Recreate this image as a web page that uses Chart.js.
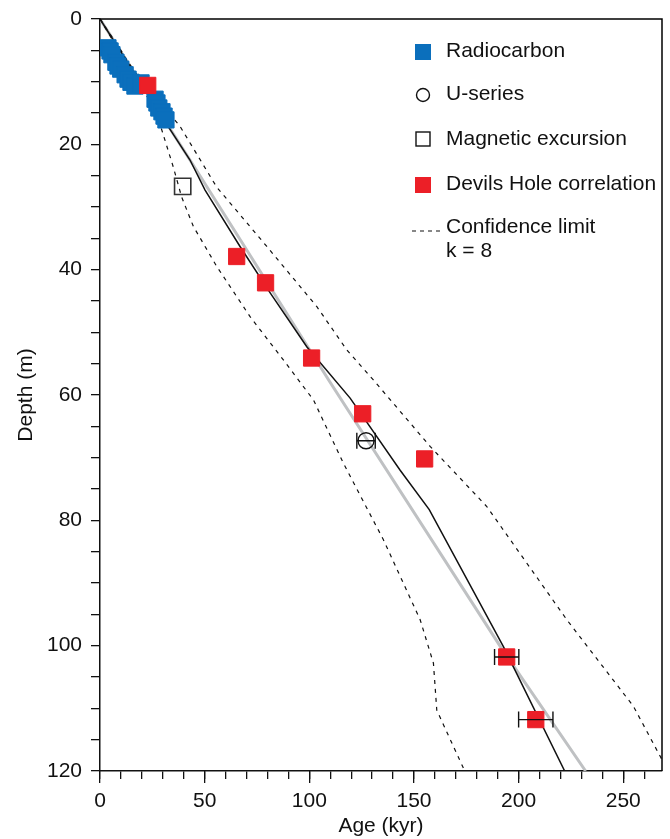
<!DOCTYPE html>
<html>
<head>
<meta charset="utf-8">
<script src="https://cdn.jsdelivr.net/npm/chart.js@4.4.1/dist/chart.umd.min.js"></script>
<style>
  body { margin: 0; background: #fff; }
  #wrap { width: 670px; height: 839px; position: relative; }
</style>
</head>
<body>
<div id="wrap"><canvas id="agechart"></canvas></div>
<script>
// age (kyr) vs depth (m)
const radiocarbonAge = [3.8, 4.8, 5.7, 7.6, 8.6, 9.9, 12.0, 13.4, 14.8, 16.7, 19.6, 26.3, 27.2, 28.1, 29.6, 30.6, 31.5];
const radiocarbonDepth = [4.6, 5.1, 5.7, 6.9, 7.5, 8.0, 8.9, 9.6, 10.1, 10.7, 10.2, 12.8, 13.4, 14.2, 14.8, 15.5, 16.1];

const uSeriesAge = [127.1];
const uSeriesDepth = [67.3];
const uSeriesErr = [4.4];

const magneticAge = [39.5];
const magneticDepth = [26.7];

const devilsAge = [22.8, 65.3, 79.1, 101.1, 125.5, 155.1, 194.3, 208.2];
const devilsDepth = [10.6, 37.9, 42.1, 54.1, 63.0, 70.2, 101.8, 111.8];
const devilsErr = [0, 0, 0, 0, 0, 0, 5.8, 8.2];

const modelAge = [0, 32.7, 43, 50.2, 66.9, 81.3, 98.8, 119.5, 143.4, 157.3, 192.8, 222];
const modelDepth = [0, 17.2, 22.5, 27.3, 36.3, 43.7, 52.3, 60.5, 72, 78.3, 100.2, 120];

const linearAge = [0, 43, 110, 192, 232];
const linearDepth = [0, 22.5, 58, 100.5, 120];

const upperAge = [0, 5, 20, 38, 55.7, 79.7, 103.6, 117.9, 130.6, 157.7, 184.8, 223.1, 254.9, 267.7, 271.4];
const upperDepth = [0, 2.8, 10, 17, 26.8, 36.3, 45.9, 52.8, 57.6, 68.2, 77.8, 95.9, 109.7, 117.7, 120];

const lowerAge = [0, 10, 27, 35, 39, 44.6, 55.8, 71.7, 87.6, 102, 116.3, 135.4, 153, 159.3, 160.9, 173.7, 174];
const lowerDepth = [0, 5, 15, 23.6, 28.4, 33.1, 39.5, 47.5, 54.4, 60.8, 70.9, 83.1, 95.9, 102.8, 110.3, 119.6, 120];

const ageMax = 268.5;
const depthMax = 120;

const BLUE = '#0b6fbc';
const RED = '#ec1f27';
const FONT = 'Liberation Sans, Arial, Helvetica, sans-serif';

function pts(xs, ys) {
  return xs.map((x, i) => ({ x: x, y: ys[i] }));
}

const frame = {
  id: 'frame',
  afterDraw(chart) {
    const { ctx, chartArea: a } = chart;
    ctx.save();
    ctx.strokeStyle = '#000';
    ctx.lineWidth = 1.5;
    ctx.beginPath();
    ctx.moveTo(a.left, a.top);
    ctx.lineTo(a.right, a.top);
    ctx.lineTo(a.right, a.bottom);
    ctx.stroke();
    ctx.restore();
  }
};

const errorBars = {
  id: 'errorBars',
  afterDatasetsDraw(chart) {
    const { ctx } = chart;
    const xs = chart.scales.x, ys = chart.scales.y;
    const bars = [];
    devilsAge.forEach((a, i) => { if (devilsErr[i] > 0) bars.push([a, devilsDepth[i], devilsErr[i]]); });
    uSeriesAge.forEach((a, i) => bars.push([a, uSeriesDepth[i], uSeriesErr[i]]));
    ctx.save();
    ctx.strokeStyle = '#111';
    ctx.lineWidth = 1.4;
    bars.forEach(([a, d, e]) => {
      const x0 = xs.getPixelForValue(a - e), x1 = xs.getPixelForValue(a + e);
      const y = ys.getPixelForValue(d);
      ctx.beginPath();
      ctx.moveTo(x0, y); ctx.lineTo(x1, y);
      ctx.moveTo(x0, y - 8); ctx.lineTo(x0, y + 8);
      ctx.moveTo(x1, y - 8); ctx.lineTo(x1, y + 8);
      ctx.stroke();
    });
    ctx.restore();
  }
};

const legendBox = {
  id: 'legendBox',
  afterDraw(chart) {
    const { ctx, chartArea: a } = chart;
    const mx = a.left + 323, tx = a.left + 346;
    ctx.save();
    ctx.font = '21px ' + FONT;
    ctx.fillStyle = '#111';
    ctx.textBaseline = 'middle';
    ctx.textAlign = 'left';
    ctx.fillText('Radiocarbon', tx, 51);
    ctx.fillText('U-series', tx, 94);
    ctx.fillText('Magnetic excursion', tx, 139);
    ctx.fillText('Devils Hole correlation', tx, 184);
    ctx.fillText('Confidence limit', tx, 227);
    ctx.fillText('k = 8', tx, 251);

    ctx.fillStyle = BLUE;
    ctx.fillRect(mx - 8, 44, 16, 16);
    ctx.fillStyle = RED;
    ctx.fillRect(mx - 8, 177, 16, 16);
    ctx.strokeStyle = '#111';
    ctx.lineWidth = 1.4;
    ctx.beginPath();
    ctx.arc(mx, 95, 6.5, 0, Math.PI * 2);
    ctx.stroke();
    ctx.strokeRect(mx - 7, 132, 14, 14);
    ctx.setLineDash([4, 4]);
    ctx.lineWidth = 1.2;
    ctx.beginPath();
    ctx.moveTo(mx - 11, 231);
    ctx.lineTo(mx + 17, 231);
    ctx.stroke();
    ctx.restore();
  }
};

const tickFont = { family: FONT, size: 21 };

function fitBottom(h) {
  return function (s) {
    s.height = h;
    s.paddingLeft = 0;
    s.paddingRight = 0;
  };
}

new Chart(document.getElementById('agechart'), {
  type: 'scatter',
  plugins: [frame, errorBars, legendBox],
  data: {
    datasets: [
      {
        data: pts(devilsAge, devilsDepth),
        pointStyle: 'rect',
        pointRadius: 11.5,
        backgroundColor: RED,
        borderColor: RED,
        borderWidth: 1,
      },
      {
        data: pts(radiocarbonAge, radiocarbonDepth),
        pointStyle: 'rect',
        pointRadius: 11.5,
        backgroundColor: BLUE,
        borderColor: BLUE,
        borderWidth: 1,
      },
      {
        data: pts(uSeriesAge, uSeriesDepth),
        pointStyle: 'circle',
        pointRadius: 8,
        backgroundColor: 'rgba(0,0,0,0)',
        borderColor: '#111',
        borderWidth: 1.4,
      },
      {
        data: pts(magneticAge, magneticDepth),
        pointStyle: 'rect',
        pointRadius: 11.5,
        backgroundColor: 'rgba(0,0,0,0)',
        borderColor: '#333',
        borderWidth: 1.6,
      },
      {
        data: pts(modelAge, modelDepth),
        showLine: true,
        pointRadius: 0,
        borderColor: '#111',
        borderWidth: 1.5,
      },
      {
        data: pts(upperAge, upperDepth),
        showLine: true,
        pointRadius: 0,
        borderColor: '#111',
        borderWidth: 1.2,
        borderDash: [4, 5],
      },
      {
        data: pts(lowerAge, lowerDepth),
        showLine: true,
        pointRadius: 0,
        borderColor: '#111',
        borderWidth: 1.2,
        borderDash: [4, 5],
      },
      {
        data: pts(linearAge, linearDepth),
        showLine: true,
        pointRadius: 0,
        borderColor: '#bfc1c3',
        borderWidth: 3,
      },
    ]
  },
  options: {
    responsive: true,
    maintainAspectRatio: false,
    animation: false,
    layout: {
      autoPadding: false,
      padding: { top: 19, right: 8, left: 0, bottom: 0 }
    },
    plugins: {
      legend: { display: false },
      tooltip: { enabled: false },
    },
    scales: {
      x: {
        type: 'linear',
        position: 'bottom',
        weight: 1,
        min: 0,
        max: ageMax,
        afterFit: fitBottom(68),
        ticks: {
          stepSize: 10,
          includeBounds: false,
          autoSkip: false,
          maxRotation: 0,
          padding: 10,
          color: '#111',
          font: tickFont,
          callback: function (v) { return v % 50 === 0 ? v : ''; }
        },
        grid: {
          drawOnChartArea: false,
          tickLength: 8,
          color: '#111',
          lineWidth: 1.3,
        },
        border: { display: true, color: '#111', width: 1.5 },
        title: {
          display: true,
          text: 'Age (kyr)',
          color: '#111',
          font: tickFont,
          padding: { top: 0, bottom: 0 },
        }
      },
      x2: {
        type: 'linear',
        position: 'bottom',
        weight: 0,
        min: 0,
        max: ageMax,
        afterFit: fitBottom(0),
        ticks: {
          stepSize: 50,
          includeBounds: false,
          autoSkip: false,
          callback: function () { return ''; }
        },
        grid: {
          drawOnChartArea: false,
          tickLength: 12,
          color: '#111',
          lineWidth: 1.3,
        },
        border: { display: false },
      },
      y: {
        type: 'linear',
        min: 0,
        max: depthMax,
        reverse: true,
        afterFit: function (s) { s.width = 100; s.paddingTop = 0; s.paddingBottom = 0; },
        ticks: {
          stepSize: 5,
          autoSkip: false,
          padding: 9,
          color: '#111',
          font: tickFont,
          callback: function (v) { return v % 20 === 0 ? v : ''; }
        },
        grid: {
          drawOnChartArea: false,
          tickLength: 9,
          color: '#111',
          lineWidth: 1.3,
        },
        border: { display: true, color: '#111', width: 1.5 },
        title: {
          display: true,
          text: 'Depth (m)',
          color: '#111',
          font: tickFont,
          padding: { top: 14, bottom: 0 },
        }
      }
    }
  },
});
</script>
</body>
</html>
